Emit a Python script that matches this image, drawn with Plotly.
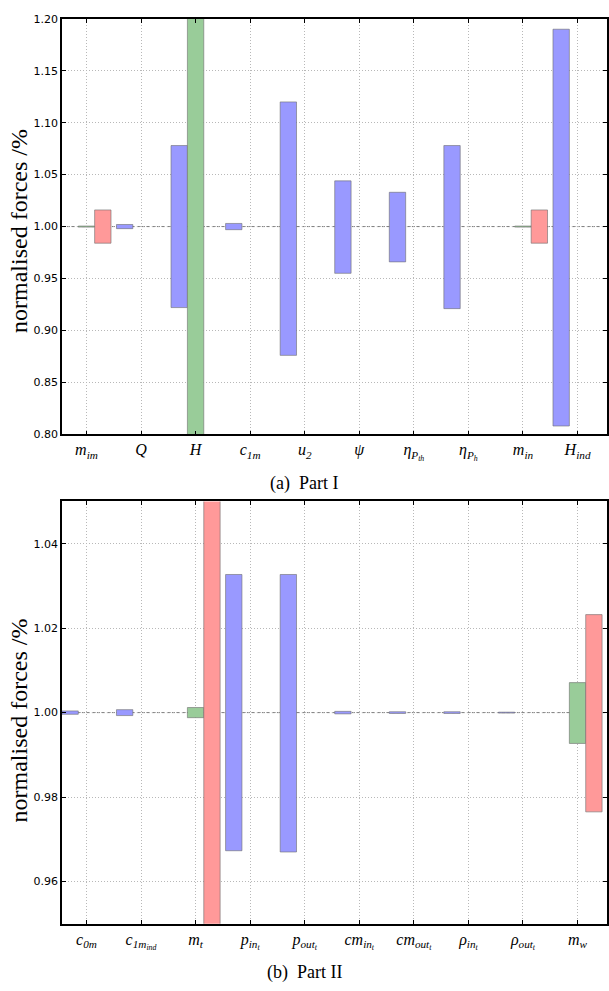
import plotly.graph_objects as go

W, H = 609, 991

# ---------------- data ----------------
labels1 = ["<i>m<sub>im</sub></i>", "<i>Q</i>", "<i>H</i>", "<i>c<sub>1m</sub></i>", "<i>u<sub>2</sub></i>",
           "<i>ψ</i>", "<i>η<sub>P<sub>th</sub></sub></i>", "<i>η<sub>P<sub>h</sub></sub></i>",
           "<i>m<sub>in</sub></i>", "<i>H<sub>ind</sub></i>"]
blue_lo1 = [None, 0.998, 0.922, 0.997, 0.876, 0.955, 0.966, 0.921, None, 0.808]
blue_hi1 = [None, 1.002, 1.078, 1.003, 1.120, 1.044, 1.033, 1.078, None, 1.190]
green_lo1 = [0.9995, None, 0.70, None, None, None, None, None, 0.9995, None]
green_hi1 = [1.0005, None, 1.30, None, None, None, None, None, 1.0005, None]
red_lo1 = [0.984, None, None, None, None, None, None, None, 0.984, None]
red_hi1 = [1.016, None, None, None, None, None, None, None, 1.016, None]

labels2 = ["<i>c<sub>0m</sub></i>", "<i>c<sub>1m<sub>ind</sub></sub></i>", "<i>m<sub>t</sub></i>",
           "<i>p<sub>in<sub>t</sub></sub></i>", "<i>p<sub>out<sub>t</sub></sub></i>",
           "<i>cm<sub>in<sub>t</sub></sub></i>", "<i>cm<sub>out<sub>t</sub></sub></i>",
           "<i>ρ<sub>in<sub>t</sub></sub></i>", "<i>ρ<sub>out<sub>t</sub></sub></i>", "<i>m<sub>w</sub></i>"]
blue_lo2 = [0.9996, 0.9993, None, 0.9673, 0.9670, 0.9997, 0.9998, 0.9998, 0.9999, None]
blue_hi2 = [1.0004, 1.0007, None, 1.0327, 1.0327, 1.0003, 1.0002, 1.0002, 1.0001, None]
green_lo2 = [None, None, 0.9988, None, None, None, None, None, None, 0.9927]
green_hi2 = [None, None, 1.0012, None, None, None, None, None, None, 1.0071]
red_lo2 = [None, None, 0.90, None, None, None, None, None, None, 0.9765]
red_hi2 = [None, None, 1.10, None, None, None, None, None, None, 1.0232]

yticks1 = [0.80, 0.85, 0.90, 0.95, 1.00, 1.05, 1.10, 1.15, 1.20]
yticks2 = [0.96, 0.98, 1.00, 1.02, 1.04]

BLUE = "rgba(153,153,255,1)"
GREEN = "rgba(153,204,153,1)"
RED = "rgba(255,153,153,1)"
EDGE = "rgba(110,110,110,0.6)"

fig = go.Figure()


def add_series(lo, hi, color, offset, xa, ya):
    xs, ys, bs = [], [], []
    for i, (l, h) in enumerate(zip(lo, hi)):
        if l is None:
            continue
        xs.append(i)
        ys.append(h - l)
        bs.append(l)
    fig.add_trace(go.Bar(x=xs, y=ys, base=bs, width=0.3, offset=offset,
                         marker=dict(color=color, line=dict(color=EDGE, width=1)),
                         xaxis=xa, yaxis=ya, showlegend=False, hoverinfo="skip"))


for (lo, hi, c, off) in [(blue_lo1, blue_hi1, BLUE, -0.45), (green_lo1, green_hi1, GREEN, -0.15),
                         (red_lo1, red_hi1, RED, 0.15)]:
    add_series(lo, hi, c, off, "x", "y")
for (lo, hi, c, off) in [(blue_lo2, blue_hi2, BLUE, -0.45), (green_lo2, green_hi2, GREEN, -0.15),
                         (red_lo2, red_hi2, RED, 0.15)]:
    add_series(lo, hi, c, off, "x2", "y2")


def px_x(p):
    return p / W


def px_y(p):
    return 1 - p / H


xdom = [px_x(62), px_x(608)]
ydom1 = [px_y(434), px_y(13)]
ydom2 = [px_y(930), px_y(502)]

axis_common = dict(showline=True, linecolor="black", linewidth=1.5, mirror="ticks",
                   ticks="inside", ticklen=4, tickcolor="black", showgrid=True,
                   gridcolor="#b8b8b8", griddash="1px,2px", gridwidth=1, zeroline=False)

xcommon = dict(axis_common, range=[-0.45, 9.54], tickvals=list(range(10)),
               tickfont=dict(family="Liberation Serif", size=16, color="black"))

fig.update_layout(
    width=W, height=H, margin=dict(l=0, r=0, t=0, b=0),
    paper_bgcolor="white", plot_bgcolor="white", barmode="overlay",
    xaxis=dict(xcommon, domain=xdom, ticktext=labels1, anchor="y"),
    yaxis=dict(axis_common, domain=ydom1, range=[0.80, 1.20], tickvals=yticks1,
               tickformat=".2f", tickfont=dict(family="DejaVu Sans", size=11, color="black"), anchor="x"),
    xaxis2=dict(xcommon, domain=xdom, ticktext=labels2, anchor="y2"),
    yaxis2=dict(axis_common, domain=ydom2, range=[0.95, 1.05], tickvals=yticks2,
                tickformat=".2f", tickfont=dict(family="DejaVu Sans", size=11, color="black"), anchor="x2"),
)

# reference line at 1.00
for xr, yr in [("x", "y"), ("x2", "y2")]:
    fig.add_shape(type="line", xref=xr + " domain", yref=yr, x0=0, x1=1, y0=1.0, y1=1.0,
                  line=dict(color="rgba(90,90,90,0.8)", width=1, dash="3px,2px"), layer="below")

serif = dict(family="Liberation Serif", color="black")
for ycen in [228, 724]:
    fig.add_annotation(x=px_x(19), y=px_y(ycen), xref="paper", yref="paper",
                       text="normalised forces /%", textangle=-90, showarrow=False,
                       font=dict(serif, size=24), xanchor="center", yanchor="middle")
fig.add_annotation(x=px_x(305), y=px_y(484), xref="paper", yref="paper", text="(a)  Part I",
                   showarrow=False, font=dict(serif, size=18), xanchor="center", yanchor="middle")
fig.add_annotation(x=px_x(305), y=px_y(979), xref="paper", yref="paper", text="(b)  Part II",
                   showarrow=False, font=dict(serif, size=18), xanchor="center", yanchor="middle")

fig.write_html("out.html", config={"displayModeBar": False},
               post_script="document.body.style.margin='0';document.body.style.overflow='hidden';")
